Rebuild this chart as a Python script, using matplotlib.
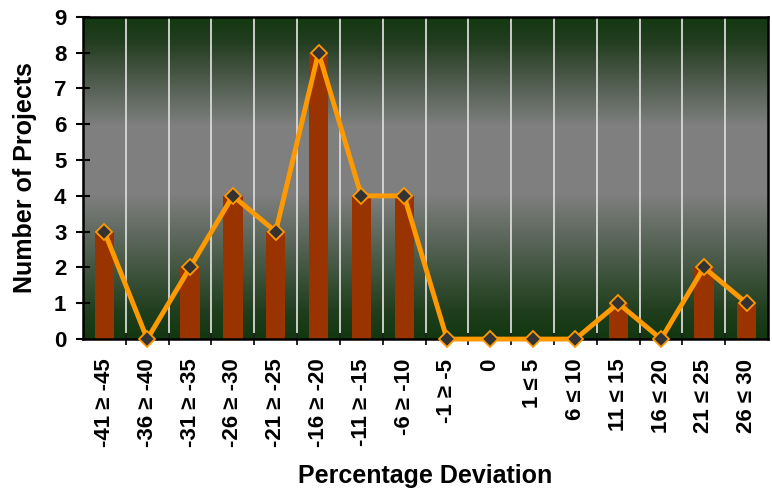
import numpy as np
import matplotlib
matplotlib.use('Agg')
import matplotlib.pyplot as plt
from matplotlib.colors import LinearSegmentedColormap

# Daten
categories = ["-41 ≥ -45", "-36 ≥ -40", "-31 ≥ -35", "-26 ≥ -30", "-21 ≥ -25",
              "-16 ≥ -20", "-11 ≥ -15", "-6 ≥ -10", "-1 ≥ -5", "0", "1 ≤ 5",
              "6 ≤ 10", "11 ≤ 15", "16 ≤ 20", "21 ≤ 25", "26 ≤ 30"]
projects = [3, 0, 2, 4, 3, 8, 4, 4, 0, 0, 0, 0, 1, 0, 2, 1]

plt.rcParams['font.family'] = ['Liberation Sans', 'DejaVu Sans']
plt.rcParams['font.weight'] = 'bold'

fig = plt.figure(figsize=(7.72, 4.95), dpi=100)
ax = fig.add_axes([0.1075, 0.315, 0.8875, 0.651])

x = np.arange(len(categories))

# Hintergrund-Verlauf: grün - grau - grün
green = (0.07, 0.22, 0.06)
gray = (0.50, 0.50, 0.50)
cmap = LinearSegmentedColormap.from_list(
    "bg", [(0.0, green), (0.08, (0.12, 0.24, 0.11)), (0.45, gray), (0.66, gray),
           (0.92, (0.14, 0.24, 0.13)), (1.0, green)])
grad = np.linspace(0, 1, 256).reshape(-1, 1)
ax.imshow(grad, aspect='auto', cmap=cmap, origin='lower',
          extent=[-0.5, len(categories) - 0.5, 0, 9], zorder=0)

# weiße Trennlinien
for b in x[:-1] + 0.5:
    ax.axvline(b, color='#d8d8d8', lw=1.3, zorder=1)

ax.bar(x, projects, width=0.45, color='#993300', zorder=2)
ax.plot(x, projects, color='#FF9900', lw=3.5, marker='D', markersize=8.5,
        markerfacecolor='#333333', markeredgecolor='#FF9900', markeredgewidth=1.3,
        zorder=3, clip_on=False)

ax.set_xlim(-0.5, len(categories) - 0.5)
ax.set_ylim(0, 9)
ax.set_yticks(range(0, 10))
ax.set_xticks(x[:-1] + 0.5, minor=False)
ax.set_xticklabels([])
ax.set_xticks(x, minor=True)
ax.set_xticklabels(categories, minor=True, rotation=90, fontsize=16, fontweight='bold')
ax.tick_params(axis='x', which='minor', length=0, pad=14)
ax.tick_params(axis='x', which='major', direction='inout', length=8, width=1.2)
ax.tick_params(axis='y', direction='inout', length=10, width=1.5, labelsize=16, pad=7)
for lab in ax.get_yticklabels():
    lab.set_fontweight('bold')

for s in ax.spines.values():
    s.set_linewidth(1.8)
    s.set_color('black')

ax.set_ylabel("Number of Projects", fontsize=18, fontweight='bold', labelpad=12)
ax.set_xlabel("Percentage Deviation", fontsize=18, fontweight='bold', labelpad=12)

fig.savefig("out.png", dpi=100)
